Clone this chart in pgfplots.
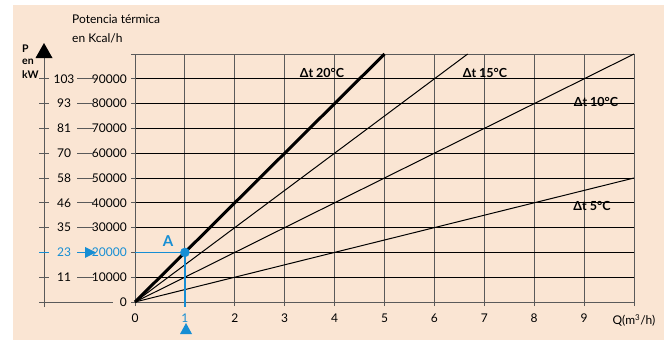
\documentclass[border=0pt]{standalone}
\usepackage{fontspec}
\setmainfont{Lato}
\usepackage{pgfplots}
\pgfplotsset{compat=1.18}
\definecolor{peach}{RGB}{250,229,211}
\definecolor{cblue}{RGB}{22,142,212}
\definecolor{gline}{RGB}{90,90,90}
\begin{document}
\begin{tikzpicture}
\path (0pt,0pt) rectangle (664pt,-340pt);
\fill[peach] (13pt,-5pt) rectangle (664pt,-340pt);
\begin{axis}[
  at={(135pt,-302pt)}, anchor=south west,
  scale only axis, width=499pt, height=248pt,
  xmin=0, xmax=10, ymin=0, ymax=100000,
  clip=false,
  axis line style={gline, line width=1pt},
  xtick={0,1,...,10},
  ytick={0,10000,...,100000},
  xticklabels={0,{\color{cblue}1},2,3,4,5,6,7,8,9,{Q(m\textsuperscript{3}/h)}},
  yticklabels={{0\hspace{5pt}},10000,{\color{cblue}20000},30000,40000,50000,60000,70000,80000,90000,{}},
  scaled y ticks=false,
  tick pos=left, tick align=outside, major tick length=4pt,
  every tick/.style={gline, line width=1pt},
  /pgf/number format/assume math mode=true,
  ticklabel style={font=\fontsize{12}{14}\selectfont, inner sep=0pt},
  yticklabel style={anchor=east, xshift=-4pt},
  xticklabel style={anchor=north, yshift=-8pt},
  grid=major,
  major x grid style={gline, line width=1pt},
  major y grid style={black, line width=1pt},
]
\addplot[black, line width=1pt] coordinates {(0,0) (6.6667,100000)};
\addplot[black, line width=1pt] coordinates {(0,0) (10,100000)};
\addplot[black, line width=1pt] coordinates {(0,0) (10,50000)};
\addplot[cblue, line width=1.3pt] coordinates {(0,20000) (1,20000)};
\addplot[cblue, line width=1.3pt] coordinates {(1,20000) (1,-2000)};
\addplot[black, line width=3pt] coordinates {(0,0) (5,100000)};
\addplot[cblue, only marks, mark=*, mark size=4.5pt] coordinates {(1,20000)};
\end{axis}
\begin{scope}[x=1pt,y=-1pt]
  % left P axis
  \draw[gline, line width=1pt] (44,307) -- (44,56);
  \fill (44,43) -- (35.5,58) -- (52.5,58) -- cycle;
  \draw[gline, line width=1pt] (39,302) -- (113,302);
  \foreach \i/\kw in {1/11,3/35,4/46,5/58,6/70,7/81,8/93,9/103} {
    \pgfmathsetmacro{\py}{302-24.8*\i}
    \draw[gline, line width=1pt] (39,\py) -- (49,\py);
    \draw[gline, line width=1pt] (77,\py) -- (94,\py);
    \node[font=\fontsize{12}{14}\selectfont, inner sep=0pt] at (64,\py) {\kw};
  }
  \pgfmathsetmacro{\py}{302-24.8*2}
  \draw[cblue, line width=1pt] (39,\py) -- (49,\py);
  \node[cblue, font=\fontsize{12}{14}\selectfont, inner sep=0pt] at (64,\py) {23};
  \draw[cblue, line width=1.3pt] (77,\py) -- (88,\py);
  \fill[cblue] (96,\py) -- (85,\py-5.5) -- (85,\py+5.5) -- cycle;
  % labels
  \node[anchor=west, inner sep=0pt, font=\fontsize{12}{14}\selectfont] at (72,19) {Potencia térmica};
  \node[anchor=west, inner sep=0pt, font=\fontsize{12}{14}\selectfont] at (72,38) {en Kcal/h};
  \node[anchor=west, inner sep=0pt, font=\bfseries\fontsize{10.5}{12}\selectfont] at (22,49) {P};
  \node[anchor=west, inner sep=0pt, font=\bfseries\fontsize{10.5}{12}\selectfont] at (22,62) {en};
  \node[anchor=west, inner sep=0pt, font=\bfseries\fontsize{10.5}{12}\selectfont] at (22,75) {kW};
  % curve labels
  \node[font=\bfseries\fontsize{12.5}{14}\selectfont, inner sep=0pt] at (322,73) {Δt 20°C};
  \node[font=\bfseries\fontsize{12.5}{14}\selectfont, inner sep=0pt] at (485,73) {Δt 15°C};
  \node[font=\bfseries\fontsize{12.5}{14}\selectfont, inner sep=0pt] at (596,102) {Δt 10°C};
  \node[font=\bfseries\fontsize{12.5}{14}\selectfont, inner sep=0pt] at (592,206) {Δt 5°C};
  % blue markers
  \node[cblue, font=\bfseries\fontsize{15}{17}\selectfont, inner sep=0pt] at (168,241) {A};
  \fill[cblue] (186,323) -- (180,334) -- (192,334) -- cycle;
\end{scope}
\end{tikzpicture}
\end{document}
